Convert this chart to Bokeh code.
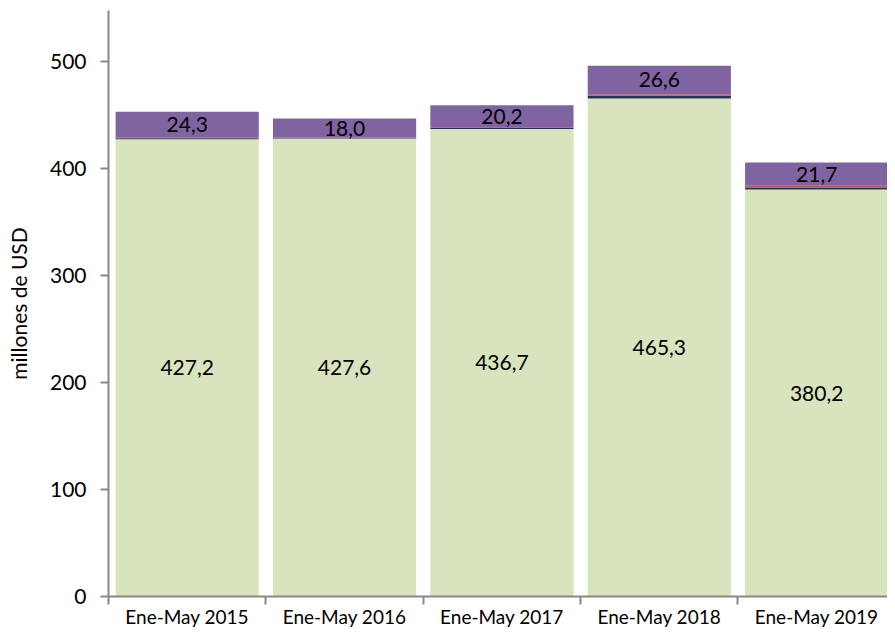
from bokeh.plotting import figure
from bokeh.models import ColumnDataSource, FixedTicker, Range1d, LabelSet
from bokeh.core.properties import value
from bokeh.embed import file_html
from bokeh.resources import INLINE

periods = ["Ene-May 2015", "Ene-May 2016", "Ene-May 2017", "Ene-May 2018", "Ene-May 2019"]
green_vals = [427.2, 427.6, 436.7, 465.3, 380.2]
dark_vals = [1.0, 0.6, 1.2, 2.5, 2.0]
red_vals = [0.4, 0.3, 0.8, 1.5, 1.6]
purple_vals = [24.3, 18.0, 20.2, 26.6, 21.7]
y_ticks = [0, 100, 200, 300, 400, 500]

def fmt(v):
    return f"{v:.1f}".replace(".", ",")

xs = [i + 0.5 for i in range(len(periods))]
g_top = green_vals
d_top = [g + d for g, d in zip(green_vals, dark_vals)]
r_top = [a + r for a, r in zip(d_top, red_vals)]
p_top = [a + p for a, p in zip(r_top, purple_vals)]

src = ColumnDataSource(dict(
    x=xs,
    g0=[0] * len(xs), g1=g_top,
    d1=d_top, r1=r_top, p1=p_top,
    gmid=[g / 2 for g in green_vals],
    pmid=[(a + b) / 2 for a, b in zip(r_top, p_top)],
    glab=[fmt(v) for v in green_vals],
    plab=[fmt(v) for v in purple_vals],
))

p = figure(width=887, height=630, output_backend="svg", toolbar_location=None,
           x_range=Range1d(0, 4.95), y_range=Range1d(0, 547.5),
           min_border_left=108, min_border_right=0, min_border_top=10, min_border_bottom=32)
p.outline_line_color = None
p.xgrid.visible = False
p.ygrid.visible = False
p.background_fill_color = "white"

w = 0.91
p.vbar(x="x", bottom="g0", top="g1", width=w, source=src, fill_color="#D7E4BD", line_color=None)
p.vbar(x="x", bottom="g1", top="d1", width=w, source=src, fill_color="#1F3452", line_color=None)
p.vbar(x="x", bottom="d1", top="r1", width=w, source=src, fill_color="#C0504D", line_color=None)
p.vbar(x="x", bottom="r1", top="p1", width=w, source=src, fill_color="#8064A2", line_color=None)

p.add_layout(LabelSet(x="x", y="gmid", text="glab", source=src, text_align="center",
                      text_baseline="middle", text_font=value("Lato"), text_font_size=value("21px"),
                      text_color="black"))
p.add_layout(LabelSet(x="x", y="pmid", text="plab", source=src, text_align="center",
                      text_baseline="middle", text_font=value("Lato"), text_font_size=value("21px"),
                      text_color="black"))

# x axis
p.xaxis.ticker = FixedTicker(ticks=xs, minor_ticks=list(range(len(periods) + 1)))
p.xaxis.major_label_overrides = {x: lab for x, lab in zip(xs, periods)}
p.xaxis.major_tick_out = 0
p.xaxis.major_tick_in = 0
p.xaxis.minor_tick_out = 8
p.xaxis.minor_tick_in = 0
p.xaxis.minor_tick_line_color = "#888888"
p.xaxis.minor_tick_line_width = 2
p.xaxis.axis_line_color = "#888888"
p.xaxis.axis_line_width = 2
p.xaxis.major_label_text_font = "Lato"
p.xaxis.major_label_text_font_size = "19px"
p.xaxis.major_label_text_color = "black"
p.xaxis.major_label_standoff = 0

# y axis
p.yaxis.ticker = FixedTicker(ticks=y_ticks, minor_ticks=[])
p.yaxis.major_tick_out = 8
p.yaxis.major_tick_in = 0
p.yaxis.major_tick_line_color = "#888888"
p.yaxis.major_tick_line_width = 2
p.yaxis.axis_line_color = "#888888"
p.yaxis.axis_line_width = 2
p.yaxis.major_label_text_font = "Lato"
p.yaxis.major_label_text_font_size = "21px"
p.yaxis.major_label_text_color = "black"
p.yaxis.major_label_standoff = 14
p.yaxis.axis_label = "millones de USD"
p.yaxis.axis_label_text_font = "Lato"
p.yaxis.axis_label_text_font_style = "normal"
p.yaxis.axis_label_text_font_size = "21px"
p.yaxis.axis_label_text_color = "black"
p.yaxis.axis_label_standoff = 16

open("out.html", "w").write(file_html(p, INLINE))
